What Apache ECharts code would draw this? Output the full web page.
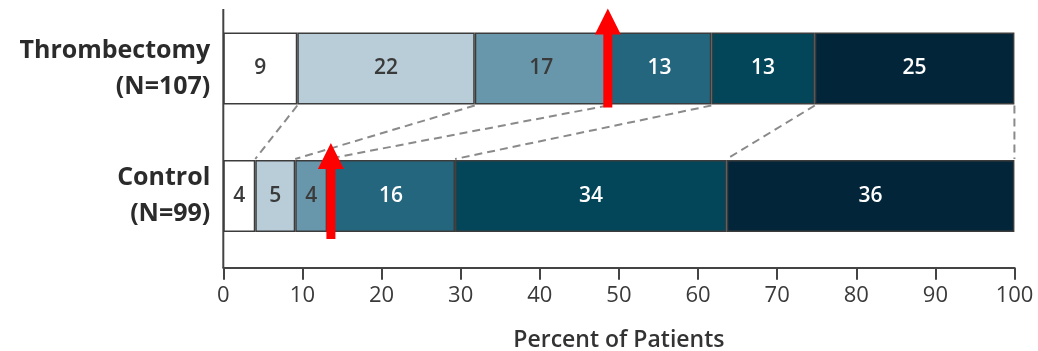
<!DOCTYPE html>
<html>
<head>
<meta charset="utf-8">
<script src="https://cdn.jsdelivr.net/npm/echarts@6/dist/echarts.min.js"></script>
<style>
  html, body { margin: 0; padding: 0; background: #fff; }
  #chart { width: 1038px; height: 351px; }
</style>
</head>
<body>
<div id="chart"></div>
<script>
// ---- data ----
const categories = ['Thrombectomy\n(N=107)', 'Control\n(N=99)'];
const thrombectomy = [9.35, 22.43, 16.82, 13.08, 13.08, 25.23];
const control = [4.04, 5.05, 4.04, 16.16, 34.34, 36.36];
const thrombectomyLabels = ['9', '22', '17', '13', '13', '25'];
const controlLabels = ['4', '5', '4', '16', '34', '36'];
const arrowValues = [48.6, 13.6];
const xAxisTitle = 'Percent of Patients';

// ---- styles ----
const colors = ['#ffffff', '#b8cdd8', '#6896aa', '#25667f', '#03465a', '#02253a'];
const labelColors = ['#3a3a3a', '#3a3a3a', '#3a3a3a', '#ffffff', '#ffffff', '#ffffff'];
const BAR_H = 72;
const arrowTipAbove = [24, 17];
const arrowBelow = [3, 7];
const FONT = 'Open Sans';

const allLabels = [thrombectomyLabels, controlLabels];

const barSeries = colors.map((c, s) => ({
  type: 'bar',
  stack: 'total',
  barWidth: BAR_H,
  data: [thrombectomy[s], control[s]],
  itemStyle: { color: c, borderColor: '#3c3c3c', borderWidth: 1.5 },
  label: {
    show: true,
    position: 'inside',
    fontFamily: FONT,
    fontSize: 21,
    fontWeight: 600,
    color: labelColors[s],
    formatter: p => allLabels[p.dataIndex][s]
  },
  emphasis: { disabled: true },
  z: 2
}));

// cumulative boundaries for connectors
const connectors = [];
let ct = 0, cc = 0;
for (let i = 0; i < thrombectomy.length; i++) {
  ct += thrombectomy[i]; cc += control[i];
  connectors.push([Math.min(ct, 100), Math.min(cc, 100), 0]);
}

const connectorSeries = {
  type: 'custom',
  data: connectors,
  encode: { x: [0, 1], y: 2 },
  silent: true,
  z: 3,
  renderItem: (params, api) => {
    const top = api.coord([api.value(0), 0]);
    const bot = api.coord([api.value(1), 1]);
    return {
      type: 'line',
      shape: { x1: top[0], y1: top[1] + BAR_H / 2 + 1, x2: bot[0], y2: bot[1] - BAR_H / 2 - 1 },
      style: { stroke: '#8a8a8a', lineWidth: 2, lineDash: [8, 5] }
    };
  }
};

const arrowSeries = {
  type: 'custom',
  data: arrowValues.map((v, i) => [v, i]),
  encode: { x: 0, y: 1 },
  silent: true,
  z: 10,
  renderItem: (params, api) => {
    const i = params.dataIndex;
    const c = api.coord([api.value(0), api.value(1)]);
    const x = c[0];
    const tip = c[1] - BAR_H / 2 - arrowTipAbove[i];
    const bottom = c[1] + BAR_H / 2 + arrowBelow[i];
    const hw = 13, hh = 26, sw = 4.5;
    return {
      type: 'polygon',
      shape: { points: [
        [x, tip], [x + hw, tip + hh], [x + sw, tip + hh], [x + sw, bottom],
        [x - sw, bottom], [x - sw, tip + hh], [x - hw, tip + hh]
      ] },
      style: { fill: '#ff0000' }
    };
  }
};

const chart = echarts.init(document.getElementById('chart'), null, { renderer: 'canvas' });
chart.setOption({
  animation: false,
  backgroundColor: '#ffffff',
  grid: { left: 223.3, right: 23.5, top: 4.75, height: 255, containLabel: false, outerBoundsMode: 'none' },
  xAxis: {
    type: 'value',
    min: 0, max: 100, interval: 10,
    offset: 8,
    splitLine: { show: false },
    axisLine: { show: true, lineStyle: { color: '#444', width: 2 } },
    axisTick: { show: true, length: 12, lineStyle: { color: '#444', width: 2 } },
    axisLabel: { fontFamily: FONT, fontSize: 22, color: '#3a3a3a', margin: 17 },
    name: xAxisTitle,
    nameLocation: 'middle',
    nameGap: 61,
    nameTextStyle: { fontFamily: FONT, fontSize: 23, fontWeight: 600, color: '#333' }
  },
  yAxis: {
    type: 'category',
    inverse: true,
    data: categories,
    axisLine: { show: false },
    axisTick: { show: false },
    axisLabel: {
      fontFamily: FONT, fontSize: 25, fontWeight: 700, color: '#2b2b2b',
      lineHeight: 36, align: 'right', margin: 13
    }
  },
  series: [...barSeries, connectorSeries, arrowSeries]
});

const x0 = chart.convertToPixel({ xAxisIndex: 0 }, 0);
chart.setOption({
  graphic: [{
    type: 'line',
    shape: { x1: x0, y1: 9, x2: x0, y2: 268 },
    style: { stroke: '#444', lineWidth: 2 },
    z: 1
  }]
});
</script>
</body>
</html>
